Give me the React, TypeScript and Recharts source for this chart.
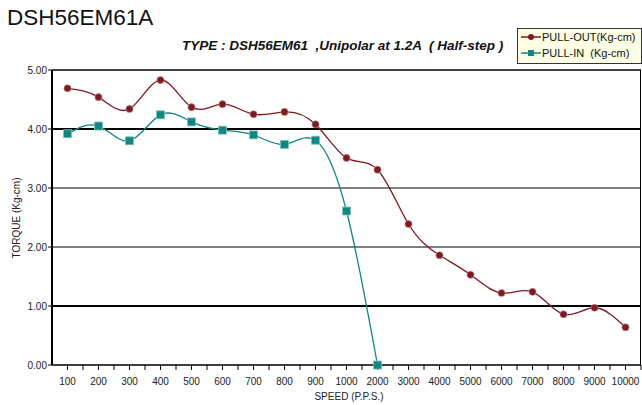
import { LineChart, Line, XAxis, YAxis, ReferenceLine } from "recharts";

const speeds = ['100', '200', '300', '400', '500', '600', '700', '800', '900', '1000', '2000', '3000', '4000', '5000', '6000', '7000', '8000', '9000', '10000'];
const pullOut = [4.69, 4.54, 4.34, 4.83, 4.37, 4.42, 4.25, 4.29, 4.08, 3.51, 3.31, 2.39, 1.86, 1.53, 1.22, 1.24, 0.86, 0.97, 0.64];
const pullIn: (number | null)[] = [3.92, 4.05, 3.80, 4.24, 4.12, 3.98, 3.90, 3.74, 3.81, 2.61, 0, null, null, null, null, null, null, null, null];
const yTicks = [0, 1, 2, 3, 4, 5];

const RED = '#7e1a22';
const TEAL = '#138680';
const FONT = '"Liberation Sans", Arial, sans-serif';

const data = speeds.map((s, i) => ({ speed: s, out: pullOut[i], in: pullIn[i] }));

// half of one category step, for the minor ticks between labels
const HALF = (589 - 31) / 18 / 2;

const SpeedTick = (props: any) => {
    const { x, y, payload } = props;
    return (
        <g>
            <line x1={x + HALF} x2={x + HALF} y1={y - 13} y2={y - 8} stroke="#000" />
            <text x={x} y={y} dy="0.71em" textAnchor="middle" fontSize={10} fill="#222" fontFamily={FONT}>
                {payload.value}
            </text>
        </g>
    );
};

const SquareDot = (props: any) => {
    const { cx, cy, index } = props;
    if (cx == null || cy == null || pullIn[index] == null) return <g key={`sq-${index}`} />;
    return <rect key={`sq-${index}`} x={cx - 4} y={cy - 4} width={8} height={8} fill={TEAL} stroke="#7fc4c0" strokeWidth={0.8} />;
};

const RoundDot = (props: any) => {
    const { cx, cy, index } = props;
    return <circle key={`rd-${index}`} cx={cx} cy={cy} r={3.6} fill={RED} stroke="#c89a9d" strokeWidth={0.6} />;
};

export default function App() {
    return (
        <div style={{ position: 'absolute', left: 0, top: 0, width: 642, height: 405, background: '#fff', fontFamily: FONT }}>
            <div style={{ position: 'absolute', left: 7, top: 5, fontSize: 22.5, color: '#111' }}>DSH56EM61A</div>
            <div style={{ position: 'absolute', left: 182, top: 38, fontSize: 13.5, fontWeight: 'bold', fontStyle: 'italic', color: '#111', whiteSpace: 'pre' }}>
                {'TYPE : DSH56EM61  ,Unipolar at 1.2A  ( Half-step )'}
            </div>

            {/* 凡例 */}
            <div style={{ position: 'absolute', left: 517, top: 28, width: 123, height: 34, background: '#ffffe6', border: '1px solid #333', fontSize: 11, color: '#111' }}>
                <div style={{ position: 'absolute', left: 3, top: 2, display: 'flex', alignItems: 'center', whiteSpace: 'pre' }}>
                    <svg width={20} height={12}><line x1={0} x2={20} y1={6} y2={6} stroke={RED} strokeWidth={1.5} /><circle cx={10} cy={6} r={3} fill={RED} /></svg>
                    <span style={{ marginLeft: 1 }}>PULL-OUT(Kg-cm)</span>
                </div>
                <div style={{ position: 'absolute', left: 3, top: 18, display: 'flex', alignItems: 'center', whiteSpace: 'pre' }}>
                    <svg width={20} height={12}><line x1={0} x2={20} y1={6} y2={6} stroke={TEAL} strokeWidth={1.5} /><rect x={7} y={3} width={6} height={6} fill={TEAL} /></svg>
                    <span style={{ marginLeft: 1 }}>{'PULL-IN  (Kg-cm)'}</span>
                </div>
            </div>

            <div style={{ position: 'absolute', left: 16, top: 218, transform: 'translate(-50%, -50%) rotate(-90deg)', fontSize: 10, color: '#222', whiteSpace: 'nowrap' }}>
                TORQUE (Kg-cm)
            </div>
            <div style={{ position: 'absolute', left: 349, top: 396, transform: 'translate(-50%, -50%)', fontSize: 10, color: '#222', whiteSpace: 'nowrap' }}>
                SPEED (P.P.S.)
            </div>

            <LineChart width={642} height={405} data={data} margin={{ top: 70, right: 1, bottom: 10, left: 0 }}>
                <XAxis
                    dataKey="speed"
                    interval={0}
                    padding={{ left: HALF, right: HALF }}
                    tick={<SpeedTick />}
                    tickSize={5}
                    tickMargin={8}
                    height={30}
                    axisLine={{ stroke: '#000', strokeWidth: 1.5 }}
                    tickLine={{ stroke: '#000' }}
                />
                <YAxis
                    domain={[0, 5]}
                    ticks={yTicks}
                    width={52}
                    tickFormatter={(v: number) => v.toFixed(2)}
                    tick={{ fontSize: 10, fill: '#222', fontFamily: FONT }}
                    tickSize={4}
                    tickMargin={1}
                    axisLine={{ stroke: '#000', strokeWidth: 2 }}
                    tickLine={{ stroke: '#000' }}
                />
                <ReferenceLine y={5} stroke="#000" strokeWidth={1.5} />
                <ReferenceLine y={4} stroke="#000" strokeWidth={2.2} />
                <ReferenceLine y={3} stroke="#000" strokeWidth={1} />
                <ReferenceLine y={2} stroke="#000" strokeWidth={1} />
                <ReferenceLine y={1} stroke="#000" strokeWidth={2.2} />
                <Line type="natural" dataKey="out" stroke={RED} strokeWidth={1.3} dot={<RoundDot />} isAnimationActive={false} />
                <Line type="natural" dataKey="in" stroke={TEAL} strokeWidth={1.3} dot={<SquareDot />} isAnimationActive={false} />
            </LineChart>
            {/* 右側の枠線 */}
            <div style={{ position: 'absolute', left: 640, top: 70, width: 1, height: 295, background: '#000' }} />
        </div>
    );
}
